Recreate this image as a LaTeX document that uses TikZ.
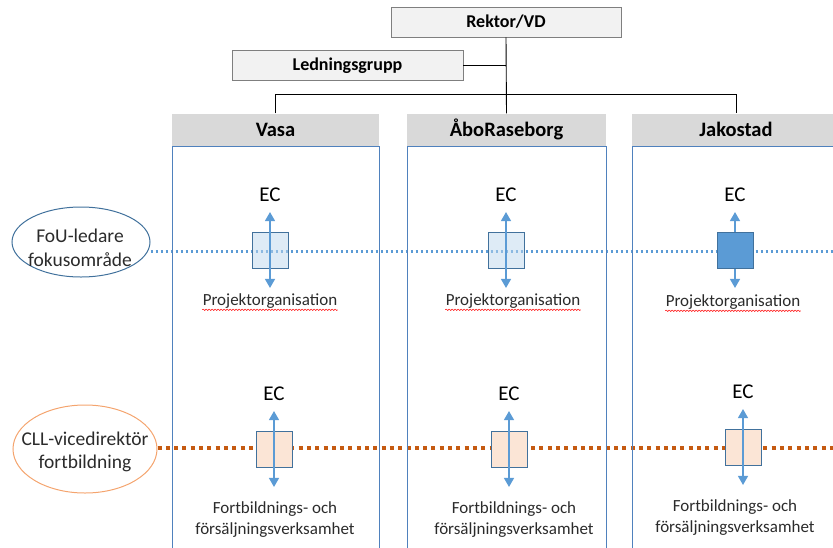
\documentclass[tikz,border=0pt]{standalone}
\usepackage{fontspec}
\setmainfont{Carlito}
\usepackage{tikz}
\usetikzlibrary{arrows.meta,positioning,shapes.geometric,decorations.pathmorphing}
\definecolor{headgray}{HTML}{D9D9D9}
\definecolor{boxgray}{HTML}{F2F2F2}
\definecolor{boxedge}{HTML}{7F7F7F}
\definecolor{colblue}{HTML}{4F81BD}
\definecolor{sqedge}{HTML}{41719C}
\definecolor{ecblue}{HTML}{5B9BD5}
\definecolor{paleblue}{HTML}{BDD7EE}
\definecolor{peach}{HTML}{FBE5D6}
\definecolor{rust}{HTML}{C55A11}
\definecolor{ellblue}{HTML}{41719C}
\definecolor{ellorange}{HTML}{F4A46E}
\definecolor{textgray}{HTML}{2B2B2B}
\pgfdeclarelayer{back}
\pgfsetlayers{back,main}

\begin{document}
\begin{tikzpicture}[x=1pt,y=-1pt,>={Triangle[width=10pt,length=9pt]},
    topbox/.style={draw=boxedge,fill=boxgray,line width=0.9pt,minimum height=30pt,font=\fontsize{18}{20}\selectfont\bfseries},
    header/.style={fill=headgray,minimum height=32pt,inner sep=0pt,font=\fontsize{20.5}{22}\selectfont\bfseries},
    colbox/.style={draw=colblue,line width=1pt,minimum height=420pt,anchor=north},
    lead/.style={ellipse,line width=1pt,inner sep=0pt},
    leadtext/.style={align=center,inner sep=0pt,text=textgray,font=\fontsize{19.5}{23.5}\selectfont},
    ecsq/.style={draw=sqedge,line width=0.9pt,minimum size=36pt,inner sep=0pt},
    ectext/.style={font=\fontsize{21}{24}\selectfont},
    unit/.style={align=center,text=textgray,font=\fontsize{17}{21}\selectfont},
    orgline/.style={line width=0.9pt},
    ecarrow/.style={<->,ecblue,line width=1.3pt,shorten <=-19.5pt,shorten >=-19.5pt},
    bluedots/.style={ecblue,line width=3pt,dash pattern=on 2.8pt off 2.2pt},
    orangedots/.style={rust,line width=4pt,dash pattern=on 4pt off 4.3pt},
    spell/.style={red,line width=0.5pt,decorate,decoration={snake,amplitude=0.7pt,segment length=3pt}}]
  \useasboundingbox (0,0) rectangle (833,547);
  \clip (0,0) rectangle (833,547);

  % ledning
  \node[topbox,minimum width=230pt] (rektor) at (506,22) {Rektor/VD};
  \node[topbox,minimum width=231pt] (ledning) at (347.5,65.5) {Ledningsgrupp};

  % enheter
  \node[header,minimum width=207pt] (hvasa) at (275.5,129.5) {Vasa};
  \node[header,minimum width=199pt] (habo) at (506.5,129.5) {ÅboRaseborg};
  \node[header,minimum width=208pt] (hjako) at (736,129.5) {Jakostad};
  \node[colbox,minimum width=207pt] (cvasa) at (hvasa.south) {};
  \node[colbox,minimum width=199pt] (cabo) at (habo.south) {};
  \node[colbox,minimum width=208pt] (cjako) at (hjako.south) {};

  \coordinate (bus) at (0,94);
  \draw[orgline] (rektor.south) -- (habo.north);
  \draw[orgline] (ledning.east) -- (ledning.east -| rektor.south);
  \draw[orgline] (hvasa.north) -- (hvasa.north |- bus) -- (hjako.north |- bus) -- (hjako.north);

  % ansvariga
  \node[lead,draw=ellblue,minimum width=138pt,minimum height=70pt] (fou) at (81,242) {};
  \node[leadtext] (foutext) at (80,248) {FoU-ledare\\fokusområde};
  \node[lead,draw=ellorange,minimum width=144pt,minimum height=88pt] (cll) at (85,449) {};
  \node[leadtext] (clltext) at (85,452) {CLL-vicedirektör\\fortbildning};
  \coordinate (fouend) at (833,251);
  \coordinate (cllend) at (833,448);

  % EC, projekt
  \node[ecsq,fill=paleblue,fill opacity=0.5] (sqV1) at (270,250) {};
  \node[ecsq,fill=paleblue,fill opacity=0.5] (sqA1) at (506,250) {};
  \node[ecsq,fill=ecblue] (sqJ1) at (735,250) {};
  % EC, fortbildning
  \node[ecsq,fill=peach] (sqV2) at (274,449) {};
  \node[ecsq,fill=peach] (sqA2) at (509,449) {};
  \node[ecsq,fill=peach] (sqJ2) at (743,447) {};

  \node[ectext,above=26pt of sqV1] (ecV1) {EC};
  \node[ectext,above=26pt of sqA1] (ecA1) {EC};
  \node[ectext,above=26pt of sqJ1] (ecJ1) {EC};
  \node[ectext,above=26pt of sqV2] (ecV2) {EC};
  \node[ectext,above=26pt of sqA2] (ecA2) {EC};
  \node[ectext,above=26pt of sqJ2] (ecJ2) {EC};

  \node[unit,below=22pt of sqV1] (pV) {Projektorganisation};
  \node[unit,below=22pt of sqA1,xshift=7pt] (pA) {Projektorganisation};
  \node[unit,below=23pt of sqJ1,xshift=-2pt] (pJ) {Projektorganisation};
  \node[unit,below=31pt of sqV2,xshift=1pt] (fV) {Fortbildnings- och\\försäljningsverksamhet};
  \node[unit,below=31pt of sqA2,xshift=5pt] (fA) {Fortbildnings- och\\försäljningsverksamhet};
  \node[unit,below=31pt of sqJ2,xshift=-8pt] (fJ) {Fortbildnings- och\\försäljningsverksamhet};

  \foreach \p in {pV,pA,pJ}
    \draw[spell] ([xshift=3pt,yshift=-4pt]\p.base west) -- ([xshift=-3pt,yshift=-4pt]\p.base east);

  \draw[ecarrow] (sqV1.north) -- (sqV1.south);
  \draw[ecarrow] (sqA1.north) -- (sqA1.south);
  \draw[ecarrow] (sqV2.north) -- (sqV2.south);
  \draw[ecarrow] (sqA2.north) -- (sqA2.south);
  \draw[ecarrow] (sqJ2.north) -- (sqJ2.south);

  \begin{pgfonlayer}{back}
    \draw[bluedots] (fou.east |- fouend) -- (fouend);
    \draw[orangedots] (cll.east |- cllend) -- (cllend);
    \draw[ecarrow] (sqJ1.north) -- (sqJ1.south);
  \end{pgfonlayer}
\end{tikzpicture}
\end{document}
